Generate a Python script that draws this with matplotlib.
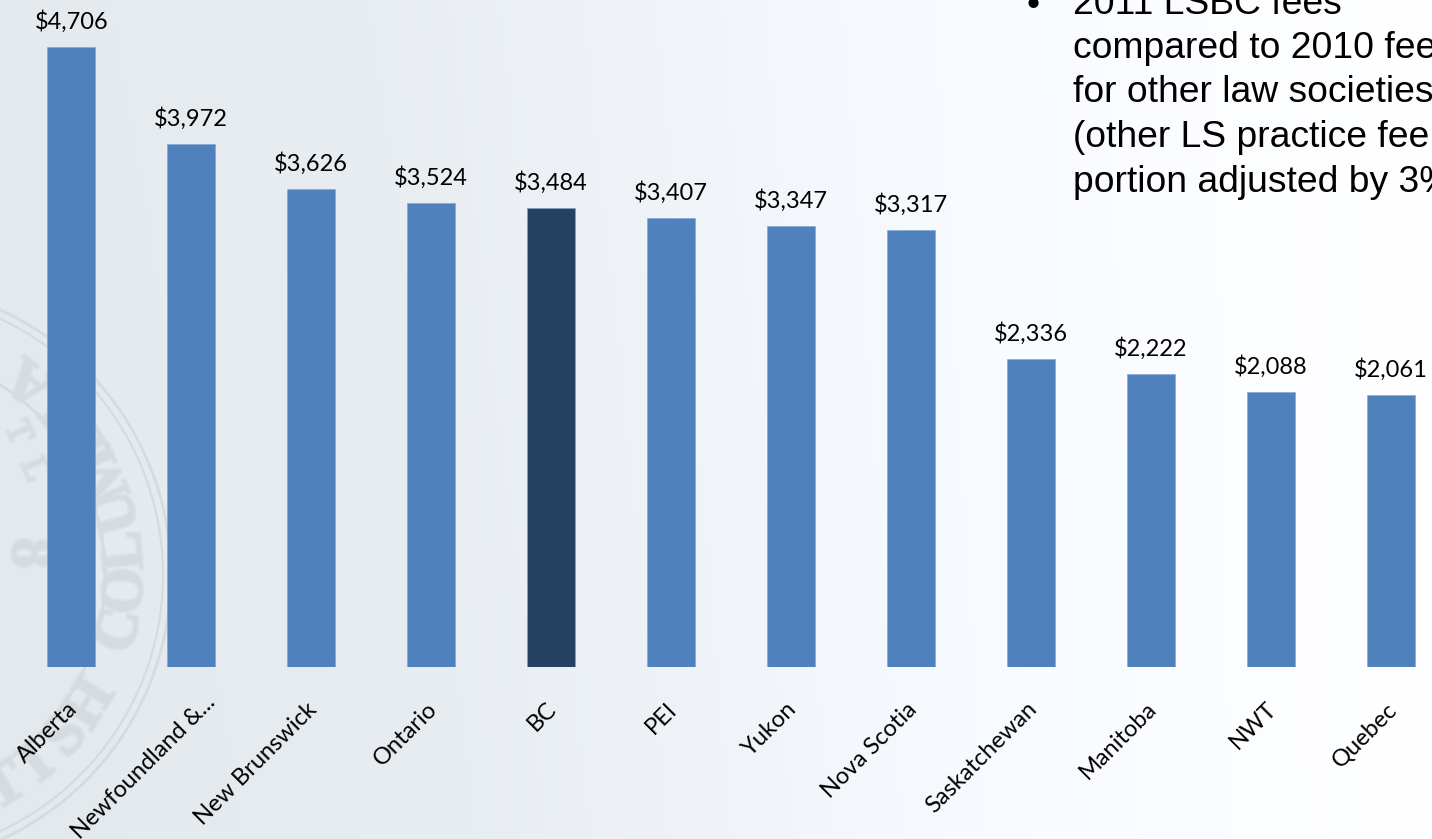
import math
import numpy as np
import matplotlib
matplotlib.use('Agg')
import matplotlib.pyplot as plt
import matplotlib.patheffects as pe
from matplotlib.colors import LinearSegmentedColormap
from matplotlib.patches import Circle
from matplotlib.transforms import Affine2D

W, H = 1432, 839

provinces = ['Alberta', 'Newfoundland &...', 'New Brunswick', 'Ontario', 'BC', 'PEI',
             'Yukon', 'Nova Scotia', 'Saskatchewan', 'Manitoba', 'NWT', 'Quebec']
fees = [4706, 3972, 3626, 3524, 3484, 3407, 3347, 3317, 2336, 2222, 2088, 2061]
highlight = 'BC'

note_lines = ['2011 LSBC fees', 'compared to 2010 fee', 'for other law societies',
              '(other LS practice fee', 'portion adjusted by 3%']

BAR_BLUE = '#4F81BD'
BAR_DARK = '#254061'
LABEL_FONT = ['Lato', 'DejaVu Sans']

fig = plt.figure(figsize=(W / 100, H / 100), dpi=100)

# Slide background, grey-blue at the left fading to white
bg = fig.add_axes([0, 0, 1, 1], zorder=0)
xx, yy = np.meshgrid(np.linspace(0, 1, 400), np.linspace(0, 1, 240))
shade = np.clip(xx + 0.10 * (1 - yy) * (1 - xx), 0, 1)
cmap = LinearSegmentedColormap.from_list(
    'slide', [(0, '#E4E9ED'), (0.33, '#E8EDF1'), (0.6, '#F4F7FB'), (0.72, '#F8FBFF'), (1, '#FFFFFF')])
bg.imshow(shade, cmap=cmap, vmin=0, vmax=1, extent=[0, W, H, 0], aspect='auto')
bg.set_xlim(0, W)
bg.set_ylim(H, 0)
bg.axis('off')

# Society seal behind the bars
cx, cy = -120, 575
seal = '#D6DBE0'
soft = [pe.withStroke(linewidth=3, foreground=seal, alpha=0.5)]
for r, lw in [(291, 2.0), (283, 1.6), (225, 2.0)]:
    bg.add_patch(Circle((cx, cy), r, fill=False, ec=seal, lw=lw))
for i, ch in enumerate('BRITISH COLUMBIA'):
    ang = 87.4 - i * 9.3
    px = cx + 248 * math.cos(math.radians(ang))
    py = cy + 248 * math.sin(math.radians(ang))
    bg.text(px, py, ch, fontsize=43, family='Liberation Serif', fontweight='bold', color=seal,
            rotation=90 - ang, ha='center', va='center', path_effects=soft)
bg.text(28, 553, '8', fontsize=44, family='Liberation Serif', fontweight='bold', color=seal,
        rotation=-90, ha='center', va='center', path_effects=soft)
bg.text(17, 433, 'T', fontsize=26, family='Liberation Serif', color=seal, rotation=-65,
        ha='center', va='center', path_effects=soft)
bg.text(33, 470, 'L', fontsize=26, family='Liberation Serif', color=seal, rotation=-65,
        ha='center', va='center', path_effects=soft)

# Bar chart
step = 119.95
ax = fig.add_axes([11.3 / W, 1 - 666.5 / H, 12 * step / W, 658 / H], zorder=1)
ax.patch.set_alpha(0)
x = np.arange(len(provinces))
colors = [BAR_DARK if p == highlight else BAR_BLUE for p in provinces]
ax.bar(x, fees, width=0.398, color=colors, edgecolor='#7FA3D1', linewidth=0.4)
ax.set_xlim(-0.5, len(provinces) - 0.5)
ax.set_ylim(0, 5000)

for xi, fee in zip(x, fees):
    ax.annotate(f'${fee:,}', (xi, fee), xytext=(0, 18.5), textcoords='offset points',
                ha='center', va='center', fontsize=17, family=LABEL_FONT, color='black',
                annotation_clip=False)

ax.set_yticks([])
ax.set_xticks(x)
ax.set_xticklabels(provinces, rotation=45, ha='right', rotation_mode='anchor',
                   fontsize=17, family=LABEL_FONT, color='black')
ax.tick_params(axis='x', length=0, pad=23)
for spine in ax.spines.values():
    spine.set_visible(False)

# Tick labels sit a little left of the bar centres, the shortened one further right
for label in ax.get_xticklabels():
    dx, dy = (13, 7) if label.get_text() == 'Newfoundland &...' else (-5, 0)
    label.set_transform(label.get_transform() + Affine2D().translate(dx, dy))

# Bullet note, runs off the top right of the slide
top = fig.add_axes([0, 0, 1, 1], zorder=2)
top.patch.set_alpha(0)
top.set_xlim(0, W)
top.set_ylim(H, 0)
top.axis('off')
top.text(1033, 5, '•', fontsize=26.8, family='Liberation Sans', ha='center', va='center', color='black')
for i, line in enumerate(note_lines):
    top.text(1073, 13.5 + i * 44.5, line, fontsize=26.8, family='Liberation Sans',
             ha='left', va='baseline', color='black')

fig.savefig('out.png', dpi=100)
